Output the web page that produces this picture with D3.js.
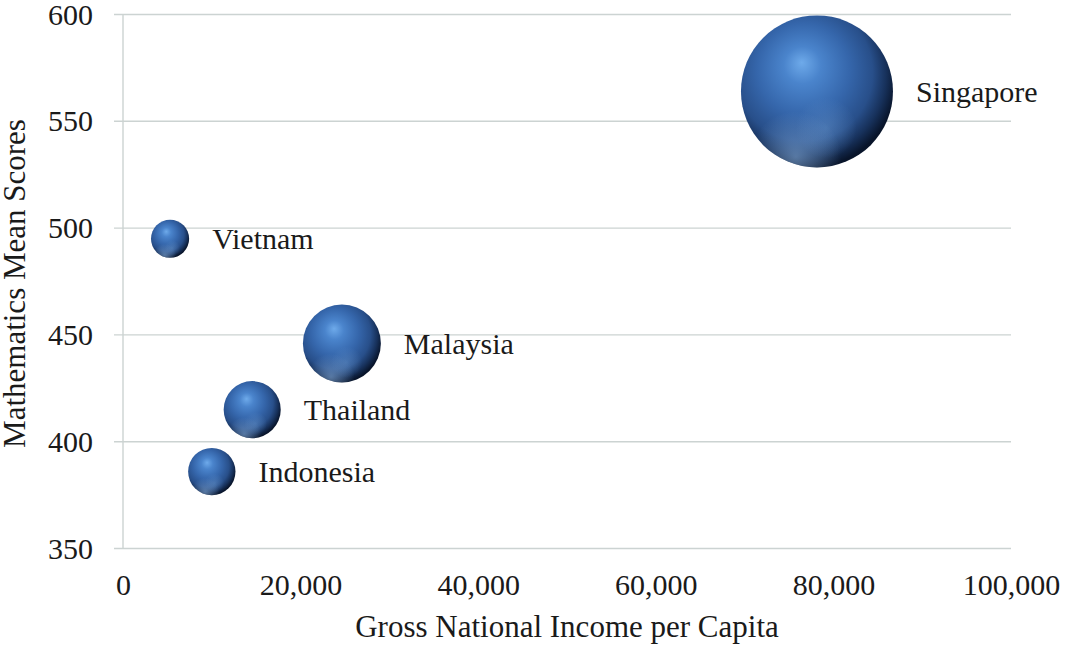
<!DOCTYPE html>
<html>
<head>
<meta charset="utf-8">
<script src="https://cdn.jsdelivr.net/npm/d3@7"></script>
<style>
  body { margin: 0; background: #fff; }
  svg { display: block; }
  text { font-family: "Liberation Serif", "Times New Roman", serif; fill: #1a1a1a; }
</style>
</head>
<body>
<svg id="chart" width="1067" height="646"></svg>
<script>
// data
const countries = ["Singapore", "Vietnam", "Malaysia", "Thailand", "Indonesia"];
const gniPerCapita = [78150, 5300, 24650, 14550, 10000];
const mathScores = [564, 495, 446, 415, 386];
const bubbleSize = [100, 6.3, 26.3, 14.1, 9.7];   // relative bubble area

const xTicks = [0, 20000, 40000, 60000, 80000, 100000];
const yTicks = [350, 400, 450, 500, 550, 600];

const svg = d3.select("#chart");
const plotLeft = 123, plotRight = 1011, plotTop = 14.5, plotBottom = 548.5;
const gridColor = "#ccd3d2";

const x = d3.scaleLinear().domain([0, 100000]).range([plotLeft, plotRight]);
const y = d3.scaleLinear().domain([350, 600]).range([plotBottom, plotTop]);
const r = d3.scaleSqrt().domain([0, 100]).range([0, 76]);

// sphere look
const defs = svg.append("defs");
const ball = defs.append("radialGradient").attr("id", "ball")
  .attr("cx", "42%").attr("cy", "40%").attr("r", "61%")
  .attr("fx", "40%").attr("fy", "31%");
[[0, "#6eaaea"], [0.2, "#4a84cc"], [0.5, "#3566ab"], [0.74, "#284f8a"], [0.88, "#17315b"], [1, "#08142a"]]
  .forEach(s => ball.append("stop").attr("offset", s[0]).attr("stop-color", s[1]));

const rim = defs.append("radialGradient").attr("id", "rim")
  .attr("cx", "36%").attr("cy", "93%").attr("r", "30%");
rim.append("stop").attr("offset", 0).attr("stop-color", "#8db4e0").attr("stop-opacity", 0.55);
rim.append("stop").attr("offset", 1).attr("stop-color", "#8db4e0").attr("stop-opacity", 0);

const glow = defs.append("radialGradient").attr("id", "glow")
  .attr("cx", "56%").attr("cy", "74%").attr("r", "20%");
glow.append("stop").attr("offset", 0).attr("stop-color", "#6f9fd6").attr("stop-opacity", 0.4);
glow.append("stop").attr("offset", 1).attr("stop-color", "#6f9fd6").attr("stop-opacity", 0);

// gridlines
svg.append("g").selectAll("line").data(yTicks).join("line")
  .attr("x1", plotLeft - 9).attr("x2", plotRight)
  .attr("y1", d => y(d)).attr("y2", d => y(d))
  .attr("stroke", gridColor).attr("stroke-width", 1.4);

svg.append("line")
  .attr("x1", plotLeft).attr("x2", plotLeft).attr("y1", plotTop).attr("y2", plotBottom)
  .attr("stroke", gridColor).attr("stroke-width", 1.4);

// axes (labels only)
const yAxis = svg.append("g").attr("transform", `translate(${plotLeft},0)`)
  .call(d3.axisLeft(y).tickValues(yTicks).tickSize(0).tickPadding(30));
const xAxis = svg.append("g").attr("transform", `translate(0,${plotBottom})`)
  .call(d3.axisBottom(x).tickValues(xTicks).tickSize(0).tickPadding(25).tickFormat(d3.format(",")));
[yAxis, xAxis].forEach(a => {
  a.select(".domain").remove();
  a.selectAll("text").style("font-family", '"Liberation Serif", serif').style("font-size", "30px").style("fill", "#1a1a1a");
});

// bubbles
const data = countries.map((c, i) => ({ name: c, gni: gniPerCapita[i], math: mathScores[i], size: bubbleSize[i] }));
const g = svg.append("g").selectAll("g").data(data).join("g")
  .attr("transform", d => `translate(${x(d.gni)},${y(d.math)})`);

g.append("circle").attr("r", d => r(d.size)).attr("fill", "url(#ball)");
g.append("circle").attr("r", d => r(d.size)).attr("fill", "url(#glow)");
g.append("circle").attr("r", d => r(d.size)).attr("fill", "url(#rim)");

g.append("text")
  .attr("x", d => r(d.size) + 23)
  .attr("dy", "0.35em")
  .style("font-size", "30px")
  .text(d => d.name);

// axis titles
svg.append("text")
  .attr("x", (plotLeft + plotRight) / 2).attr("y", 637)
  .attr("text-anchor", "middle").style("font-size", "31px")
  .text("Gross National Income per Capita");

svg.append("text")
  .attr("transform", `translate(25,${(plotTop + plotBottom) / 2 + 2}) rotate(-90)`)
  .attr("text-anchor", "middle").style("font-size", "31px")
  .text("Mathematics Mean Scores");
</script>
</body>
</html>
